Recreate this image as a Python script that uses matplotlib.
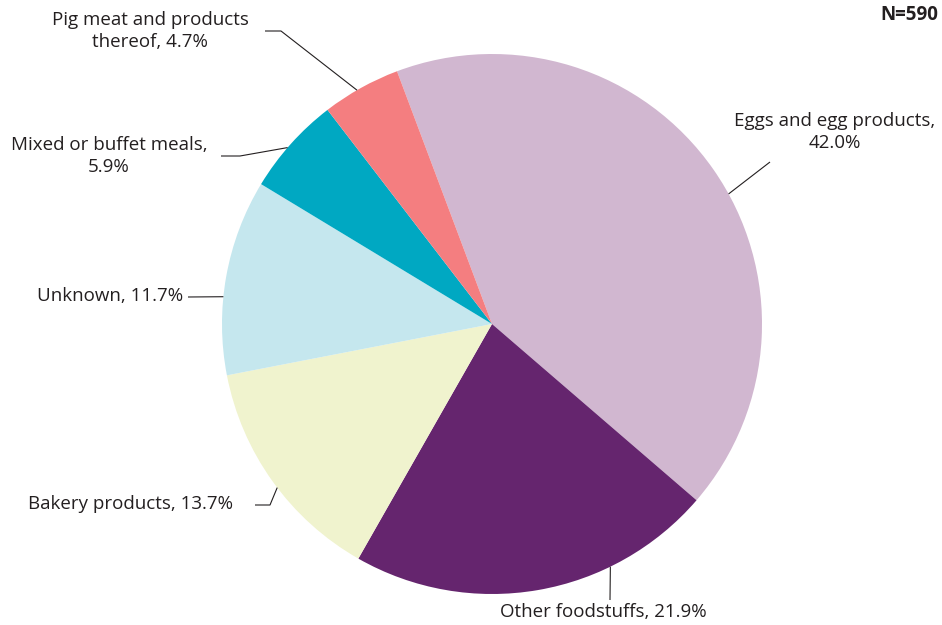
import numpy as np
import matplotlib
matplotlib.use("Agg")
import matplotlib.pyplot as plt

# Foodborne outbreak vehicles, share of outbreaks
categories = ["Eggs and egg products", "Other foodstuffs", "Bakery products",
              "Unknown", "Mixed or buffet meals", "Pig meat and products thereof"]
shares = [42.0, 21.9, 13.7, 11.7, 5.9, 4.7]
colors = ["#D1B7D0", "#65256E", "#F0F3CE", "#C5E7EE", "#00A8C2", "#F47E80"]
n_total = 590

W, H = 942, 625
fig = plt.figure(figsize=(W / 100, H / 100), dpi=100)
ax = fig.add_axes([0, 0, 1, 1])
ax.axis("off")

plt.rcParams["font.family"] = ["Open Sans", "DejaVu Sans"]
TXT = "#231F20"
FS = 13.5

cx, cy, r = 492, H - 324, 270
start = 110.6
wedges, _ = ax.pie(shares, colors=colors, startangle=start, counterclock=False,
                   center=(cx, cy), radius=r, normalize=True,
                   wedgeprops=dict(linewidth=0))
ax.set_xlim(0, W)
ax.set_ylim(0, H)
ax.set_aspect("equal")

# label layout: text anchor, alignment, leader angle on rim, extra leader points
layout = {
    "Eggs and egg products": dict(xy=(835, 132), ha="center", ang=28.8,
                                  pts=[(770, 162)], brk=True),
    "Other foodstuffs": dict(xy=(603, 612), ha="center", ang=-64.0,
                             pts=[(610, 600)], brk=False),
    "Bakery products": dict(xy=(233, 504), ha="right", ang=-142.7,
                            pts=[(270, 505), (255, 505)], brk=False),
    "Unknown": dict(xy=(183, 296), ha="right", ang=174.2,
                    pts=[(188, 297)], brk=False),
    "Mixed or buffet meals": dict(xy=(109, 156), ha="center", ang=139.2,
                                  pts=[(240, 156), (221, 156)], brk=True),
    "Pig meat and products thereof": dict(xy=(150, 31), ha="center", ang=120.0,
                                          pts=[(281, 31), (265, 31)], brk=False),
}

for name, val in zip(categories, shares):
    lay = layout[name]
    if name.startswith("Pig meat"):
        label = f"Pig meat and products\nthereof, {val:.1f}%"
    elif lay["brk"]:
        label = f"{name},\n{val:.1f}%"
    else:
        label = f"{name}, {val:.1f}%"
    a = np.deg2rad(lay["ang"])
    xs = [cx + r * np.cos(a)] + [p[0] for p in lay["pts"]]
    ys = [cy + r * np.sin(a)] + [H - p[1] for p in lay["pts"]]
    ax.plot(xs, ys, color="#231F20", lw=0.8, solid_capstyle="butt")
    ax.text(lay["xy"][0], H - lay["xy"][1], label, ha=lay["ha"], va="center",
            multialignment="center", fontsize=FS, color=TXT, linespacing=1.3)

ax.text(938, H - 15, f"N={n_total}", ha="right", va="center", fontsize=FS,
        fontweight="bold", color=TXT)

fig.savefig("out.png", dpi=100)
